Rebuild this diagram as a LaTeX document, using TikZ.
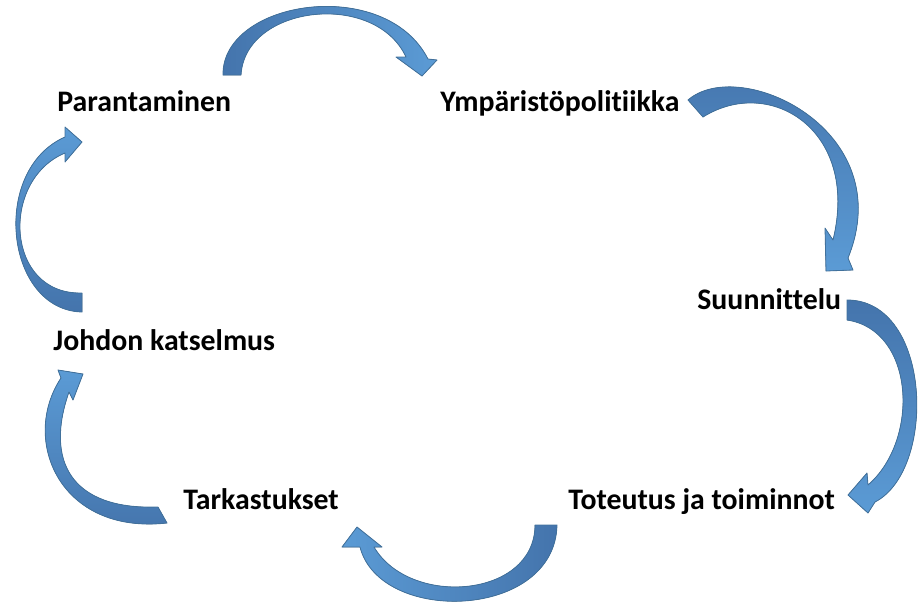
\documentclass[tikz,border=0pt]{standalone}
\usepackage{fontspec}
\setmainfont{Carlito}[Ligatures={NoCommon}]
\usepackage{tikz}

\definecolor{arrowdark}{RGB}{68,116,172}
\definecolor{arrowlight}{RGB}{91,155,213}
\definecolor{arrowedge}{RGB}{65,113,156}

\tikzset{
  phase/.style={anchor=base west, inner sep=0pt, font=\fontsize{14.9}{17}\selectfont\bfseries},
  cyclearrow/.style={draw=arrowedge, line width=0.4pt, line join=round}
}

\begin{document}
\begin{tikzpicture}[x=0.5pt, y=-0.5pt]
                \useasboundingbox (0,0) rectangle (918,602);

                % Nodes
                \node[phase] (parantaminen) at (57,111) {Parantaminen};
                \node[phase] (politiikka) at (440,111) {Ympäristöpolitiikka};
                \node[phase] (suunnittelu) at (697,309) {Suunnittelu};
                \node[phase] (toteutus) at (568,509) {Toteutus ja toiminnot};
                \node[phase] (tarkastukset) at (183,509) {Tarkastukset};
                \node[phase] (katselmus) at (53,350) {Johdon katselmus};

                % Arrows
                \filldraw[cyclearrow, left color=arrowdark, right color=arrowlight]
                    (223,75) .. controls (222,0) and (385,-25) .. (428,59)
                    -- (437,60) -- (422,76) -- (396,57) -- (406,57)
                    .. controls (375,-10) and (245,5) .. (241,75) -- cycle;
                \filldraw[cyclearrow, top color=arrowdark, bottom color=arrowlight]
                    (688,100) .. controls (740,55) and (900,130) .. (848,258)
                    -- (853,270) -- (826,271) -- (825,228) -- (833,240)
                    .. controls (860,130) and (770,75) .. (703,117) -- cycle;
                \filldraw[cyclearrow, top color=arrowdark, bottom color=arrowlight]
                    (847,300) .. controls (932,300) and (937,470) .. (875,502)
                    -- (868,513) -- (848,495) -- (867,473) -- (868,485)
                    .. controls (920,440) and (915,330) .. (847,320) -- cycle;
                \filldraw[cyclearrow, left color=arrowlight, right color=arrowdark]
                    (557,525) .. controls (555,620) and (380,625) .. (360,547)
                    -- (342,547) -- (357,527) -- (382,547) -- (374,547)
                    .. controls (410,608) and (535,598) .. (535,525) -- cycle;
                \filldraw[cyclearrow, top color=arrowlight, bottom color=arrowdark]
                    (167,523) .. controls (60,535) and (20,440) .. (61,378)
                    -- (58,370) -- (83,374) -- (73,400) -- (69,392)
                    .. controls (45,460) and (70,510) .. (158,507) -- cycle;
                \filldraw[cyclearrow, top color=arrowlight, bottom color=arrowdark]
                    (82,312) .. controls (5,310) and (-10,170) .. (65,137)
                    -- (65,127) -- (82,142) -- (65,162) -- (65,153)
                    .. controls (0,180) and (5,295) .. (82,293) -- cycle;
            \end{tikzpicture}
\end{document}
